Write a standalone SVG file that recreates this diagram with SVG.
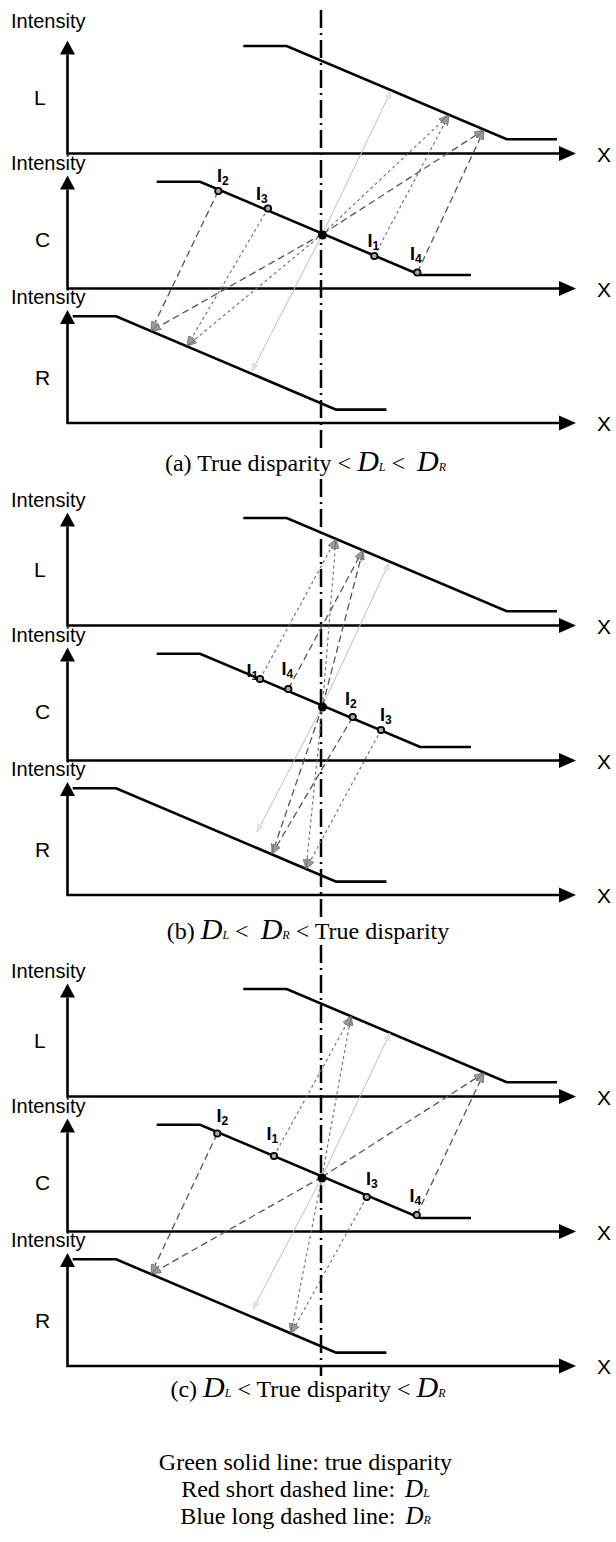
<svg xmlns="http://www.w3.org/2000/svg" width="616" height="1542" viewBox="0 0 616 1542">
<style>
.ax{fill:none;stroke:#000;stroke-width:2.6}
.cv{fill:none;stroke:#000;stroke-width:2.6;stroke-linejoin:miter}
.ah{fill:#000}
.lbl{font-family:"Liberation Sans",Arial,sans-serif;font-size:20px;fill:#000}
.big{font-family:"Liberation Sans",Arial,sans-serif;font-size:21px;fill:#000}
.pl{font-family:"Liberation Sans",Arial,sans-serif;font-size:18px;font-weight:bold;fill:#000}
.sub{font-size:12px}
.cap{font-family:"Liberation Serif","Times New Roman",serif;font-size:24px;fill:#000}
.D{font-style:italic;font-size:30px}
.Dl{font-style:italic;font-size:25px}
.Ds{font-style:italic;font-size:12px}
.dd{fill:none;stroke:#000;stroke-width:2.5;stroke-dasharray:18 5 2 5}
.sh{fill:none;stroke:#6a6a6a;stroke-width:1.1;stroke-dasharray:3 3;marker-end:url(#arr)}
.lg{fill:none;stroke:#555;stroke-width:1.3;stroke-dasharray:7 4;marker-end:url(#arr)}
.tr{fill:none;stroke:#bdbdbd;stroke-width:1;marker-end:url(#arrT)}
.pt{fill:#aaa;stroke:#000;stroke-width:1.8}
.ctr{fill:#000}
</style>
<defs>
<marker id="arr" viewBox="0 0 10 8" refX="10" refY="4" markerWidth="10" markerHeight="8" markerUnits="userSpaceOnUse" orient="auto">
<path d="M0,0 L10,4 L0,8 Z" fill="#9a9a9a" stroke="#555" stroke-width="0.6"/>
</marker>
<marker id="arrT" viewBox="0 0 10 8" refX="10" refY="4" markerWidth="8" markerHeight="6" markerUnits="userSpaceOnUse" orient="auto">
<path d="M0,0 L10,4 L0,8 Z" fill="#e4e4e4" stroke="#c8c8c8" stroke-width="0.6"/>
</marker>
<g id="axisTpl">
<path class="ax" d="M67.5,-99 V0 H560"/>
<polygon class="ah" points="67.5,-113 60,-99 75,-99"/>
<polygon class="ah" points="576,0 559,-7.5 559,7.5"/>
</g>
</defs>

<!-- dash-dot reference line -->
<g id="refline">
<line class="dd" x1="321" y1="10" x2="321" y2="450"/>
<line class="dd" x1="321" y1="479" x2="321" y2="918"/>
<line class="dd" x1="321" y1="945" x2="321" y2="1376"/>
</g>

<!-- Panel (a) -->
<g id="a-L">
<use href="#axisTpl" transform="translate(0,153.5)"/>
<text class="lbl" x="11" y="28">Intensity</text>
<text class="big" x="34" y="105">L</text>
<text class="big" x="597" y="161.5">X</text>
<path class="cv" d="M243.3,46 H286.7 L506.7,139.3 H557"/>
</g>
<g id="a-C">
<use href="#axisTpl" transform="translate(0,288.5)"/>
<text class="lbl" x="11" y="169.5">Intensity</text>
<text class="big" x="35" y="247">C</text>
<text class="big" x="597" y="296.5">X</text>
<path class="cv" d="M156.7,181.7 H200.1 L420.1,275 H471"/>
</g>
<g id="a-R">
<use href="#axisTpl" transform="translate(0,423)"/>
<text class="lbl" x="11" y="304">Intensity</text>
<text class="big" x="35" y="385">R</text>
<text class="big" x="597" y="431">X</text>
<path class="cv" d="M72.7,316.3 H116.1 L336.1,409.6 H386.4"/>
</g>

<!-- Panel (b) -->
<g id="b-L">
<use href="#axisTpl" transform="translate(0,625.5)"/>
<text class="lbl" x="11" y="506.5">Intensity</text>
<text class="big" x="34" y="577">L</text>
<text class="big" x="597" y="633.5">X</text>
<path class="cv" d="M243.3,518 H286.7 L506.7,611.3 H557"/>
</g>
<g id="b-C">
<use href="#axisTpl" transform="translate(0,760.5)"/>
<text class="lbl" x="11" y="641.5">Intensity</text>
<text class="big" x="35" y="719">C</text>
<text class="big" x="597" y="768.5">X</text>
<path class="cv" d="M156.7,653.7 H200.1 L420.1,747 H471"/>
</g>
<g id="b-R">
<use href="#axisTpl" transform="translate(0,895)"/>
<text class="lbl" x="11" y="776">Intensity</text>
<text class="big" x="35" y="857">R</text>
<text class="big" x="597" y="903">X</text>
<path class="cv" d="M72.7,788.3 H116.1 L336.1,881.6 H386.4"/>
</g>

<!-- Panel (c) -->
<g id="c-L">
<use href="#axisTpl" transform="translate(0,1096.5)"/>
<text class="lbl" x="11" y="977.5">Intensity</text>
<text class="big" x="34" y="1048">L</text>
<text class="big" x="597" y="1104.5">X</text>
<path class="cv" d="M243.3,989 H286.7 L506.7,1082.3 H557"/>
</g>
<g id="c-C">
<use href="#axisTpl" transform="translate(0,1231.5)"/>
<text class="lbl" x="11" y="1112.5">Intensity</text>
<text class="big" x="35" y="1190">C</text>
<text class="big" x="597" y="1239.5">X</text>
<path class="cv" d="M156.7,1124.7 H200.1 L420.1,1218 H471"/>
</g>
<g id="c-R">
<use href="#axisTpl" transform="translate(0,1366)"/>
<text class="lbl" x="11" y="1247">Intensity</text>
<text class="big" x="35" y="1328">R</text>
<text class="big" x="597" y="1374">X</text>
<path class="cv" d="M72.7,1259.3 H116.1 L336.1,1352.6 H386.4"/>
</g>

<!-- connectors -->
<g id="connectors">
<!-- (a) -->
<path class="tr" d="M322.5,234 L391,91"/>
<path class="tr" d="M322.5,234 L252,371"/>
<path class="sh" d="M322.5,234 L449,115"/>
<path class="sh" d="M322.5,234 L187,346"/>
<path class="sh" d="M374.3,256 L449,115"/>
<path class="sh" d="M268,208.5 L187,346"/>
<path class="lg" d="M322.5,234 L484,130"/>
<path class="lg" d="M322.5,234 L151,331"/>
<path class="lg" d="M417.3,272.5 L484,130"/>
<path class="lg" d="M218.3,191 L151,331"/>
<!-- (b) -->
<path class="tr" d="M322.5,706 L389,563"/>
<path class="tr" d="M322.5,706 L257,832"/>
<path class="sh" d="M322.5,706 L336,539"/>
<path class="sh" d="M322.5,706 L306,869"/>
<path class="sh" d="M260,679 L336,539"/>
<path class="sh" d="M381,730 L306,869"/>
<path class="lg" d="M322.5,706 L363,550"/>
<path class="lg" d="M322.5,706 L272,854"/>
<path class="lg" d="M288.3,689 L363,550"/>
<path class="lg" d="M352.7,717 L272,854"/>
<!-- (c) -->
<path class="tr" d="M322,1177 L390,1033"/>
<path class="tr" d="M322,1177 L253,1309"/>
<path class="sh" d="M322,1177 L351,1016"/>
<path class="sh" d="M322,1177 L291,1333.5"/>
<path class="sh" d="M274,1156 L351,1016"/>
<path class="sh" d="M366.7,1197 L291,1333.5"/>
<path class="lg" d="M322,1177 L484,1073"/>
<path class="lg" d="M322,1177 L151,1274"/>
<path class="lg" d="M416.7,1215 L484,1073"/>
<path class="lg" d="M217.3,1133.5 L151,1274"/>
</g>

<!-- points (a) -->
<g id="a-center"><circle class="ctr" cx="322.5" cy="235" r="4.5"/></g>
<g id="a-I2"><circle class="pt" cx="218.3" cy="191" r="3.2"/><text class="pl" x="217" y="182">I<tspan class="sub" dy="3">2</tspan></text></g>
<g id="a-I3"><circle class="pt" cx="268" cy="208.5" r="3.2"/><text class="pl" x="256" y="199.5">I<tspan class="sub" dy="3">3</tspan></text></g>
<g id="a-I1"><circle class="pt" cx="374.3" cy="256" r="3.2"/><text class="pl" x="367.5" y="246.5">I<tspan class="sub" dy="3">1</tspan></text></g>
<g id="a-I4"><circle class="pt" cx="417.3" cy="272.5" r="3.2"/><text class="pl" x="410" y="260">I<tspan class="sub" dy="3">4</tspan></text></g>

<!-- points (b) -->
<g id="b-center"><circle class="ctr" cx="322.5" cy="707" r="4.5"/></g>
<g id="b-I1"><circle class="pt" cx="260" cy="679" r="3.2"/><text class="pl" x="246.5" y="677">I<tspan class="sub" dy="3">1</tspan></text></g>
<g id="b-I4"><circle class="pt" cx="288.3" cy="689" r="3.2"/><text class="pl" x="281.5" y="675">I<tspan class="sub" dy="3">4</tspan></text></g>
<g id="b-I2"><circle class="pt" cx="352.7" cy="717" r="3.2"/><text class="pl" x="345" y="705">I<tspan class="sub" dy="3">2</tspan></text></g>
<g id="b-I3"><circle class="pt" cx="381" cy="730" r="3.2"/><text class="pl" x="380" y="720.5">I<tspan class="sub" dy="3">3</tspan></text></g>

<!-- points (c) -->
<g id="c-center"><circle class="ctr" cx="322" cy="1178" r="4.5"/></g>
<g id="c-I2"><circle class="pt" cx="217.3" cy="1133.5" r="3.2"/><text class="pl" x="216.5" y="1121.5">I<tspan class="sub" dy="3">2</tspan></text></g>
<g id="c-I1"><circle class="pt" cx="274" cy="1156" r="3.2"/><text class="pl" x="266.5" y="1140">I<tspan class="sub" dy="3">1</tspan></text></g>
<g id="c-I3"><circle class="pt" cx="366.7" cy="1197" r="3.2"/><text class="pl" x="366" y="1185">I<tspan class="sub" dy="3">3</tspan></text></g>
<g id="c-I4"><circle class="pt" cx="416.7" cy="1215" r="3.2"/><text class="pl" x="409.5" y="1201.5">I<tspan class="sub" dy="3">4</tspan></text></g>

<!-- captions -->
<g id="cap-a"><text class="cap" x="305.5" y="471" text-anchor="middle">(a) True disparity &lt; <tspan class="D">D</tspan><tspan class="Ds">L</tspan> &lt; <tspan class="D" dx="6">D</tspan><tspan class="Ds">R</tspan></text></g>
<g id="cap-b"><text class="cap" x="308" y="939" text-anchor="middle">(b) <tspan class="D">D</tspan><tspan class="Ds">L</tspan> &lt; <tspan class="D" dx="6">D</tspan><tspan class="Ds">R</tspan> &lt; True disparity</text></g>
<g id="cap-c"><text class="cap" x="308" y="1397" text-anchor="middle">(c) <tspan class="D">D</tspan><tspan class="Ds">L</tspan> &lt; True disparity &lt; <tspan class="D">D</tspan><tspan class="Ds">R</tspan></text></g>

<!-- legend -->
<g id="legend">
<text class="cap" x="305.5" y="1470" text-anchor="middle">Green solid line: true disparity</text>
<text class="cap" x="305.5" y="1497" text-anchor="middle">Red short dashed line: <tspan class="Dl" dx="4">D</tspan><tspan class="Ds">L</tspan></text>
<text class="cap" x="305.5" y="1524" text-anchor="middle">Blue long dashed line: <tspan class="Dl" dx="4">D</tspan><tspan class="Ds">R</tspan></text>
</g>
</svg>
